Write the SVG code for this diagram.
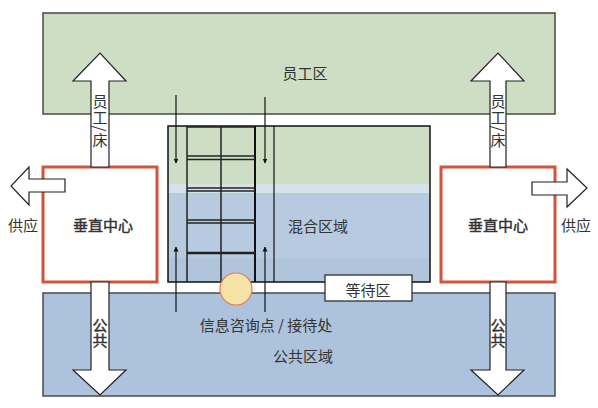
<svg xmlns="http://www.w3.org/2000/svg" width="598" height="408" viewBox="0 0 598 408">
<defs>
<style>
text{font-family:"Noto Sans CJK SC","Noto Sans CJK JP",sans-serif;fill:#333;font-size:15px;text-anchor:middle;dominant-baseline:central}
text.v{writing-mode:vertical-rl;dominant-baseline:auto;letter-spacing:1px}
text.m{stroke:#333;stroke-width:0.45}
.zone{stroke:#4a4a4a;stroke-width:1.5}
.vc{fill:#fff;stroke:#d0553c;stroke-width:3}
.arrow{fill:#fff;stroke:#222;stroke-width:1.2}
.ln{stroke:#111;stroke-width:1.2;fill:none}
.rung{stroke:#222;stroke-width:1.5}
</style>
<marker id="ah" viewBox="0 0 10 10" refX="9" refY="5" markerWidth="5" markerHeight="8" orient="auto" markerUnits="userSpaceOnUse"><path d="M0,0 L10,5 L0,10 z" fill="#111"/></marker>
</defs>
<rect width="598" height="408" fill="#fff"/>
<g id="staff-zone">
<rect class="zone" x="43" y="13" width="512" height="101" fill="#cddec5"/>
<text x="305" y="72">员工区</text>
</g>
<g id="public-zone">
<rect class="zone" x="43" y="293" width="512" height="103" fill="#adc2dc"/>
<text x="303" y="355" font-size="16">公共区域</text>
</g>
<g id="mixed-zone">
<rect x="168" y="126" width="262" height="58" fill="#cddec5"/>
<rect x="168" y="184" width="262" height="9" fill="#d5e2ea"/>
<rect x="168" y="193" width="262" height="65" fill="#b8cadf"/>
<rect x="168" y="258" width="262" height="24" fill="#b0c4dc"/>
<rect x="168" y="126" width="262" height="156" fill="none" stroke="#111" stroke-width="1.5"/>
<line class="ln" x1="274" y1="126" x2="274" y2="282"/>
<g id="ladder">
<line class="rung" x1="187" y1="126" x2="187" y2="282"/>
<line class="rung" x1="221" y1="126" x2="221" y2="282"/>
<line x1="255" y1="126" x2="255" y2="282" stroke="#111" stroke-width="2"/>
<line class="rung" x1="187" y1="127" x2="255" y2="127"/>
<line class="rung" x1="187" y1="156" x2="255" y2="156"/>
<line class="rung" x1="187" y1="159.5" x2="255" y2="159.5"/>
<line class="rung" x1="187" y1="188" x2="255" y2="188"/>
<line class="rung" x1="187" y1="191" x2="255" y2="191"/>
<line class="rung" x1="187" y1="220" x2="255" y2="220"/>
<line class="rung" x1="187" y1="223" x2="255" y2="223"/>
<line x1="187" y1="253" x2="255" y2="253" stroke="#222" stroke-width="2.5"/>
</g>
<text x="318" y="225">混合区域</text>
</g>
<g id="waiting-area">
<rect x="325" y="275" width="87" height="26" fill="#fff" stroke="#222" stroke-width="1.2"/>
<text x="368" y="289">等待区</text>
</g>
<g id="info-point">
<circle cx="236" cy="289" r="16" fill="#f4e3a4" stroke="#e07a5a" stroke-width="1.2"/>
<text x="266" y="324" font-size="16">信息咨询点 / 接待处</text>
</g>
<g id="vc-left">
<rect class="vc" x="43" y="167" width="114" height="115"/>
<text class="m" x="103" y="224">垂直中心</text>
</g>
<g id="vc-right">
<rect class="vc" x="441" y="167" width="114" height="115"/>
<text class="m" x="498" y="224">垂直中心</text>
</g>
<g id="connectors">
<path class="arrow" d="M91,167 V81 H73 L100,53 L126,81 H109 V167 Z"/>
<path class="arrow" d="M490,167 V81 H471 L498,53 L524,81 H506 V167 Z"/>
<path class="arrow" d="M91,282 V370 H73 L100,395 L126,370 H109 V282 Z"/>
<path class="arrow" d="M490,282 V370 H471 L498,395 L524,370 H506 V282 Z"/>
<path class="arrow" d="M65,179 H29 V167 L11,186 L29,205 V192 H65 Z"/>
<path class="arrow" d="M532,182 H567 V169 L587,188 L567,207 V195 H532 Z"/>
<line class="ln" x1="176" y1="95" x2="176" y2="163" marker-end="url(#ah)"/>
<line class="ln" x1="265" y1="97" x2="265" y2="163" marker-end="url(#ah)"/>
<line class="ln" x1="176" y1="312" x2="176" y2="247" marker-end="url(#ah)"/>
<line class="ln" x1="265" y1="312" x2="265" y2="247" marker-end="url(#ah)"/>
</g>
<g id="labels">
<text class="v" x="100" y="121">员工/床</text>
<text class="v" x="498" y="121">员工/床</text>
<text class="v m" x="100" y="333" style="letter-spacing:0">公共</text>
<text class="v m" x="498" y="333" style="letter-spacing:0">公共</text>
<text x="23" y="224">供应</text>
<text x="576" y="224">供应</text>
</g>
</svg>
